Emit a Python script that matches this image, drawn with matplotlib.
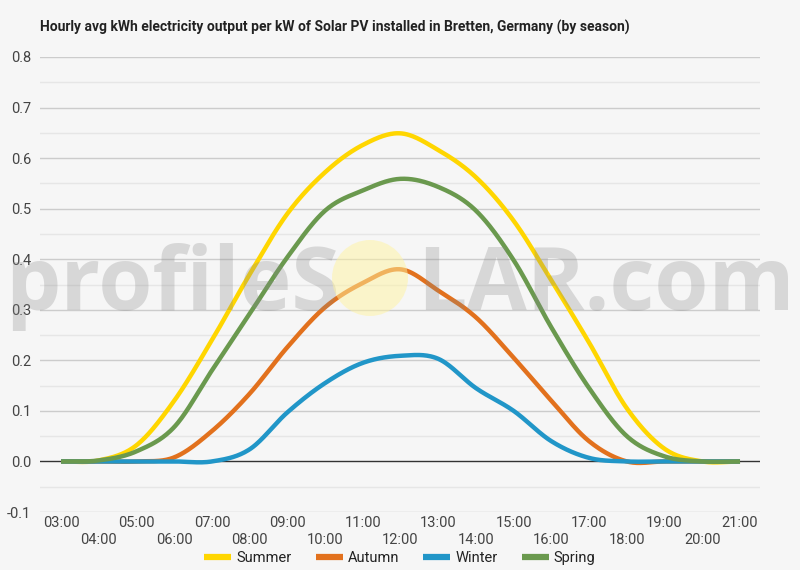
import numpy as np
import matplotlib
matplotlib.use("Agg")
import matplotlib.pyplot as plt
from matplotlib.lines import Line2D
from matplotlib.patches import Ellipse

plt.rcParams['font.family'] = ['Roboto', 'DejaVu Sans']

hours = list(range(3, 22))
summer = [0.0, 0.002, 0.032, 0.12, 0.24, 0.37, 0.49, 0.572, 0.626, 0.649, 0.616, 0.562, 0.476, 0.358, 0.235, 0.105, 0.025, 0.0, 0.0]
autumn = [0.0, 0.0, 0.0, 0.008, 0.06, 0.134, 0.226, 0.305, 0.353, 0.38, 0.338, 0.285, 0.205, 0.12, 0.04, 0.0, 0.0, 0.0, 0.0]
winter = [0.0, 0.0, 0.0, 0.0, 0.0, 0.024, 0.097, 0.155, 0.195, 0.209, 0.203, 0.145, 0.1, 0.04, 0.007, 0.0, 0.0, 0.0, 0.0]
spring = [0.0, 0.002, 0.02, 0.068, 0.18, 0.292, 0.404, 0.496, 0.536, 0.559, 0.543, 0.496, 0.398, 0.265, 0.145, 0.05, 0.01, 0.0, 0.0]

series_names = ['Summer', 'Autumn', 'Winter', 'Spring']
series_values = [summer, autumn, winter, spring]
colors = ['#FFD600', '#E2711D', '#2196C8', '#6A994E']

title = 'Hourly avg kWh electricity output per kW of Solar PV installed in Bretten, Germany (by season)'
xtick_labels = ['%02d:00' % h for h in hours]


def catmull_rom(x, y, n=30):
    x = np.asarray(x, float)
    y = np.asarray(y, float)
    m = np.zeros_like(y)
    m[1:-1] = (y[2:] - y[:-2]) / 2.0
    xs, ys = [], []
    for i in range(len(x) - 1):
        t = np.linspace(0, 1, n, endpoint=False)
        h00 = 2 * t**3 - 3 * t**2 + 1
        h10 = t**3 - 2 * t**2 + t
        h01 = -2 * t**3 + 3 * t**2
        h11 = t**3 - t**2
        xs.append(x[i] + t * (x[i + 1] - x[i]))
        ys.append(h00 * y[i] + h10 * m[i] + h01 * y[i + 1] + h11 * m[i + 1])
    xs.append([x[-1]])
    ys.append([y[-1]])
    return np.concatenate(xs), np.concatenate(ys)


bg = '#f6f6f6'
fig = plt.figure(figsize=(8, 5.7), dpi=100, facecolor=bg)
ax = fig.add_axes([40 / 800, 1 - 512 / 570, 720 / 800, 455 / 570])
ax.set_facecolor(bg)

ax.set_xlim(2.443, 21.53)
ax.set_ylim(-0.1, 0.8)

for v in np.arange(-0.05, 0.8, 0.1):
    ax.axhline(v, color='#e6e6e6', lw=1, zorder=1)
for v in np.arange(-0.1, 0.81, 0.1):
    if abs(v) > 1e-9:
        ax.axhline(v, color='#cccccc', lw=1, zorder=1)
ax.axhline(0, color='#333333', lw=1, zorder=2)

for name, vals, c in zip(series_names, series_values, colors):
    xs, ys = catmull_rom(hours, vals)
    ax.plot(xs, ys, color=c, lw=3.2, zorder=3, solid_capstyle='butt', solid_joinstyle='round')

for s in ax.spines.values():
    s.set_visible(False)

ax.set_yticks(np.arange(-0.1, 0.81, 0.1))
ax.set_yticklabels(['%.1f' % v for v in np.arange(-0.1, 0.81, 0.1)])
ax.set_xticks(hours)
ax.set_xticklabels([lab if (h % 2 == 1) else '\n' + lab for h, lab in zip(hours, xtick_labels)])
ax.tick_params(axis='both', length=0, labelsize=10.5, labelcolor='#444444')
ax.tick_params(axis='y', pad=6.5)
ax.tick_params(axis='x', pad=3)
for lab in ax.get_xticklabels():
    lab.set_linespacing(1.25)

fig.text(40 / 800, 1 - 27 / 570, title, fontsize=10.0, fontweight='bold', color='#222222',
         ha='left', va='center')

handles = [Line2D([0], [0], color=c, lw=4.5, solid_capstyle='butt') for c in colors]
fig.legend(handles, series_names, loc='center', bbox_to_anchor=(0.5, 1 - 558 / 570), ncol=4,
           frameon=False, fontsize=10.5, handlelength=1.85, handletextpad=0.35,
           columnspacing=1.65, labelcolor='#222222', borderaxespad=0, borderpad=0)

# watermark
wm_kw = dict(fontsize=63, fontweight='bold', color='#888888', alpha=0.28,
             va='baseline', family=['Open Sans', 'DejaVu Sans'], zorder=10)
fig.text(5 / 800, 1 - 310 / 570, 'profileS', ha='left', **wm_kw)
fig.text(795 / 800, 1 - 310 / 570, 'LAR.com', ha='right', **wm_kw)
fig.add_artist(Ellipse((370 / 800, 1 - 278 / 570), 76 / 800, 76 / 570, transform=fig.transFigure,
                       facecolor='#fff3a0', edgecolor='none', alpha=0.5, zorder=11))

fig.savefig('out.png', dpi=100, facecolor=bg)
